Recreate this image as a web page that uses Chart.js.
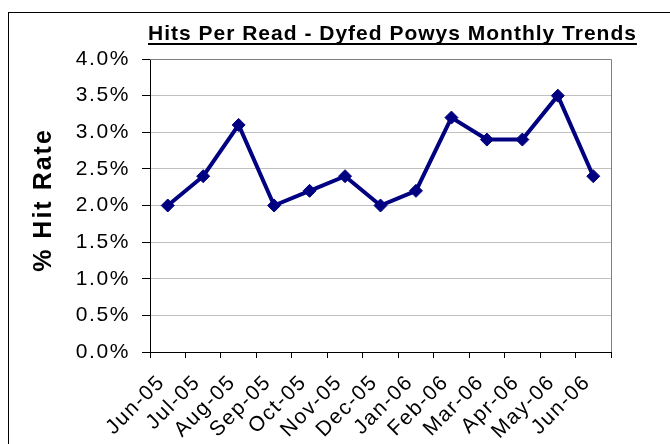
<!DOCTYPE html>
<html>
<head>
<meta charset="utf-8">
<script src="https://cdn.jsdelivr.net/npm/chart.js@4/dist/chart.umd.min.js"></script>
<style>
  html, body { margin: 0; padding: 0; background: #fff; }
  #wrap { position: relative; width: 670px; height: 444px; overflow: hidden; }
  #frame { position: absolute; left: 8px; top: 12px; width: 700px; height: 500px;
           border-left: 1px solid #000; border-top: 1px solid #000; }
  #chart1 { position: absolute; left: 0; top: 0; }
</style>
</head>
<body>
<div id="wrap">
  <div id="frame"></div>
  <canvas id="chart1" width="670" height="444"></canvas>
</div>
<script>
var chartTitle = 'Hits Per Read - Dyfed Powys Monthly Trends';
var axisTitle = '% Hit Rate';
var months = ['Jun-05', 'Jul-05', 'Aug-05', 'Sep-05', 'Oct-05', 'Nov-05', 'Dec-05',
              'Jan-06', 'Feb-06', 'Mar-06', 'Apr-06', 'May-06', 'Jun-06'];
var hitRate = [2.0, 2.4, 3.1, 2.0, 2.2, 2.4, 2.0, 2.2, 3.2, 2.9, 2.9, 3.5, 2.4];
var yMin = 0, yMax = 4, yStep = 0.5;

var FONT = '"Liberation Sans", Arial, sans-serif';

// draws the underlined title, the rotated axis title and the grey top/right frame
var decorations = {
    id: 'decorations',
    beforeDraw: function(chart) {
        chart.ctx.letterSpacing = '1.6px';
    },
    afterDraw: function(chart) {
        var ctx = chart.ctx;
        var area = chart.chartArea;
        ctx.save();
        ctx.strokeStyle = '#808080';
        ctx.lineWidth = 1;
        ctx.beginPath();
        ctx.moveTo(area.left, area.top + 0.5);
        ctx.lineTo(area.right + 0.5, area.top + 0.5);
        ctx.lineTo(area.right + 0.5, area.bottom);
        ctx.stroke();

        ctx.fillStyle = '#000';
        ctx.font = 'bold 21px ' + FONT;
        ctx.letterSpacing = '1px';
        ctx.textAlign = 'left';
        ctx.textBaseline = 'alphabetic';
        var tx = 148;
        var w = ctx.measureText(chartTitle).width;
        ctx.fillText(chartTitle, tx, 40);
        ctx.fillRect(tx, 43, w, 2);

        ctx.translate(44, 200);
        ctx.rotate(-Math.PI / 2);
        ctx.font = 'bold 25px ' + FONT;
        ctx.letterSpacing = '2px';
        ctx.textAlign = 'center';
        ctx.textBaseline = 'middle';
        ctx.fillText(axisTitle, 0, 0);
        ctx.restore();
    }
};

var ctx = document.getElementById('chart1').getContext('2d');
var chartObj = new Chart(ctx, {
    type: 'line',
    data: {
        labels: months,
        datasets: [{
            label: 'Hit rate',
            data: hitRate,
            borderColor: '#000080',
            backgroundColor: '#000080',
            borderWidth: 4,
            tension: 0,
            pointStyle: 'rectRot',
            pointRadius: 6.5,
            pointBorderWidth: 1,
            pointBorderColor: '#000080',
            pointBackgroundColor: '#000080'
        }]
    },
    options: {
        responsive: false,
        animation: false,
        layout: { padding: { left: 0, right: 59, top: 59, bottom: 0 } },
        plugins: {
            legend: { display: false },
            title: { display: false },
            tooltip: { enabled: false }
        },
        scales: {
            x: {
                offset: true,
                grid: {
                    offset: true,
                    drawOnChartArea: false,
                    drawTicks: true,
                    tickLength: 6,
                    tickColor: '#000'
                },
                border: { color: '#000', width: 1 },
                ticks: {
                    color: '#000',
                    font: { family: FONT, size: 21 },
                    minRotation: 45,
                    maxRotation: 45,
                    autoSkip: false,
                    labelOffset: -6,
                    padding: 12
                },
                afterFit: function(scale) { scale.height = 92; }
            },
            y: {
                min: yMin,
                max: yMax,
                grid: {
                    color: '#c0c0c0',
                    tickColor: '#000',
                    tickLength: 8
                },
                border: { color: '#000', width: 1 },
                ticks: {
                    stepSize: yStep,
                    color: '#000',
                    padding: 12,
                    font: { family: FONT, size: 21 },
                    callback: function(v) { return v.toFixed(1) + '%'; }
                },
                afterFit: function(scale) { scale.width = 150; }
            }
        }
    },
    plugins: [decorations]
});
</script>
</body>
</html>
